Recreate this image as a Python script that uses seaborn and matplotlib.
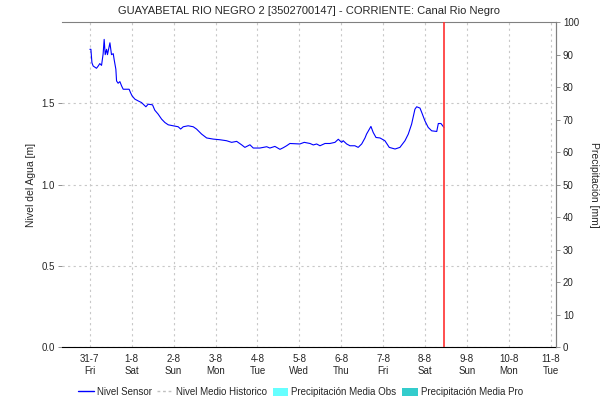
import seaborn as sns
import matplotlib.pyplot as plt
import pandas as pd
from matplotlib.lines import Line2D
from matplotlib.patches import Patch

# hours since 31-7 00:00 and water level [m]
hours = [0, 0.6, 1.2, 1.9, 3.8, 4.8, 5.7, 6.7, 7.6, 8.2, 8.8, 9.6, 10.1, 11.5, 12.4, 13.4,
         13.9, 14.9, 15.3, 16.2, 17.2, 18.2, 19.1, 22.5, 23.3, 24.2, 25.8, 27.7, 29.6, 32.1,
         33.4, 35.9, 37.2, 39.1, 41.1, 43.0, 44.9, 47.7, 50.6, 52.0, 53.5, 56.3, 59.2, 61.1,
         64.0, 66.9, 70.7, 74.5, 78.3, 81.2, 84.1, 86.9, 88.8, 91.7, 93.6, 97.4, 101.3, 103.1,
         106.0, 108.9, 110.8, 112.7, 114.6, 120.3, 122.8, 126.1, 128.0, 129.9, 131.8, 134.7,
         137.5, 140.4, 142.3, 144.2, 145.1, 147.1, 149.0, 151.8, 153.7, 155.7, 157.6, 158.5,
         161.0, 162.3, 163.9, 166.2, 169.0, 171.5, 174.8, 177.6, 180.5, 182.4, 184.3, 186.2,
         187.2, 189.1, 190.1, 191.9, 193.8, 195.8, 198.7, 199.6, 201.1, 202.8]
nivel = [1.833, 1.833, 1.750, 1.730, 1.716, 1.730, 1.745, 1.734, 1.804, 1.894, 1.800, 1.833,
         1.800, 1.873, 1.800, 1.806, 1.771, 1.710, 1.638, 1.624, 1.634, 1.607, 1.587, 1.587,
         1.566, 1.546, 1.526, 1.515, 1.505, 1.479, 1.495, 1.491, 1.458, 1.434, 1.403, 1.382,
         1.368, 1.362, 1.356, 1.342, 1.356, 1.362, 1.356, 1.342, 1.311, 1.287, 1.280, 1.276,
         1.270, 1.260, 1.266, 1.245, 1.229, 1.245, 1.225, 1.225, 1.233, 1.225, 1.235, 1.217,
         1.227, 1.239, 1.253, 1.250, 1.260, 1.253, 1.244, 1.250, 1.239, 1.253, 1.253, 1.260,
         1.279, 1.260, 1.270, 1.250, 1.239, 1.239, 1.229, 1.250, 1.287, 1.311, 1.358, 1.321,
         1.290, 1.287, 1.270, 1.229, 1.219, 1.229, 1.270, 1.311, 1.372, 1.464, 1.479, 1.471,
         1.444, 1.393, 1.352, 1.331, 1.327, 1.376, 1.376, 1.352]

day_labels = ['31-7\nFri', '1-8\nSat', '2-8\nSun', '3-8\nMon', '4-8\nTue', '5-8\nWed',
              '6-8\nThu', '7-8\nFri', '8-8\nSat', '9-8\nSun', '10-8\nMon', '11-8\nTue']
now_hour = 203.0

df = pd.DataFrame({'hora': hours, 'nivel': nivel})

sns.set_style("white")
plt.rcParams['font.family'] = ['Liberation Sans', 'DejaVu Sans']
plt.rcParams['font.size'] = 7

fig = plt.figure(figsize=(6.13, 4.03), dpi=100)
ax = fig.add_axes([0.101, 0.139, 0.806, 0.806])

sns.lineplot(data=df, x='hora', y='nivel', ax=ax, color='#0000ff', linewidth=0.8)

ax.axvline(now_hour, color='#ff3030', linewidth=1.2, zorder=5)

ax.set_xlim(-16, 267)
ax.set_ylim(0, 2.0)
ax.set_xticks([24 * i for i in range(len(day_labels))])
ax.set_xticklabels(day_labels, fontsize=7)
ax.set_yticks([0, 0.5, 1.0, 1.5])
ax.set_yticklabels(['0.0', '0.5', '1.0', '1.5'], fontsize=7)
ax.grid(True, color='#c8c8c8', linestyle=(0, (2, 3)), linewidth=0.8)
ax.set_xlabel('')
ax.set_ylabel('Nivel del Agua [m]', fontsize=7.5, labelpad=4)
ax.tick_params(axis='both', length=3, width=0.6, color='#808080', pad=2)
ax.spines['left'].set_visible(False)
ax.spines['top'].set_color('#808080')
ax.spines['right'].set_color('#808080')
ax.spines['bottom'].set_color('black')
ax.spines['bottom'].set_linestyle((0, (1, 1)))
ax.set_title('GUAYABETAL RIO NEGRO 2 [3502700147] - CORRIENTE: Canal Rio Negro',
             fontsize=8, pad=6)

ax2 = ax.twinx()
ax2.set_ylim(0, 100)
ax2.set_yticks(range(0, 101, 10))
ax2.tick_params(axis='y', length=3, width=0.6, color='#808080', labelsize=7, pad=2)
ax2.set_ylabel('Precipitación [mm]', rotation=-90, fontsize=7.5, labelpad=14)
for s in ['left', 'top', 'bottom']:
    ax2.spines[s].set_visible(False)
ax2.spines['right'].set_color('#808080')

handles = [Line2D([], [], color='#0000ff', linewidth=1),
           Line2D([], [], color='#c0c0c0', linewidth=1, linestyle=(0, (2, 2))),
           Patch(facecolor='#66ffff', edgecolor='none'),
           Patch(facecolor='#33cccc', edgecolor='none')]
labels = ['Nivel Sensor', 'Nivel Medio Historico', 'Precipitación Media Obs',
          'Precipitación Media Pro']
fig.legend(handles, labels, loc='center', bbox_to_anchor=(0.49, 0.027), ncol=4,
           frameon=False, fontsize=7, handlelength=1.6, handletextpad=0.3,
           columnspacing=0.6, handleheight=0.9)

fig.savefig('out.png', dpi=100)
